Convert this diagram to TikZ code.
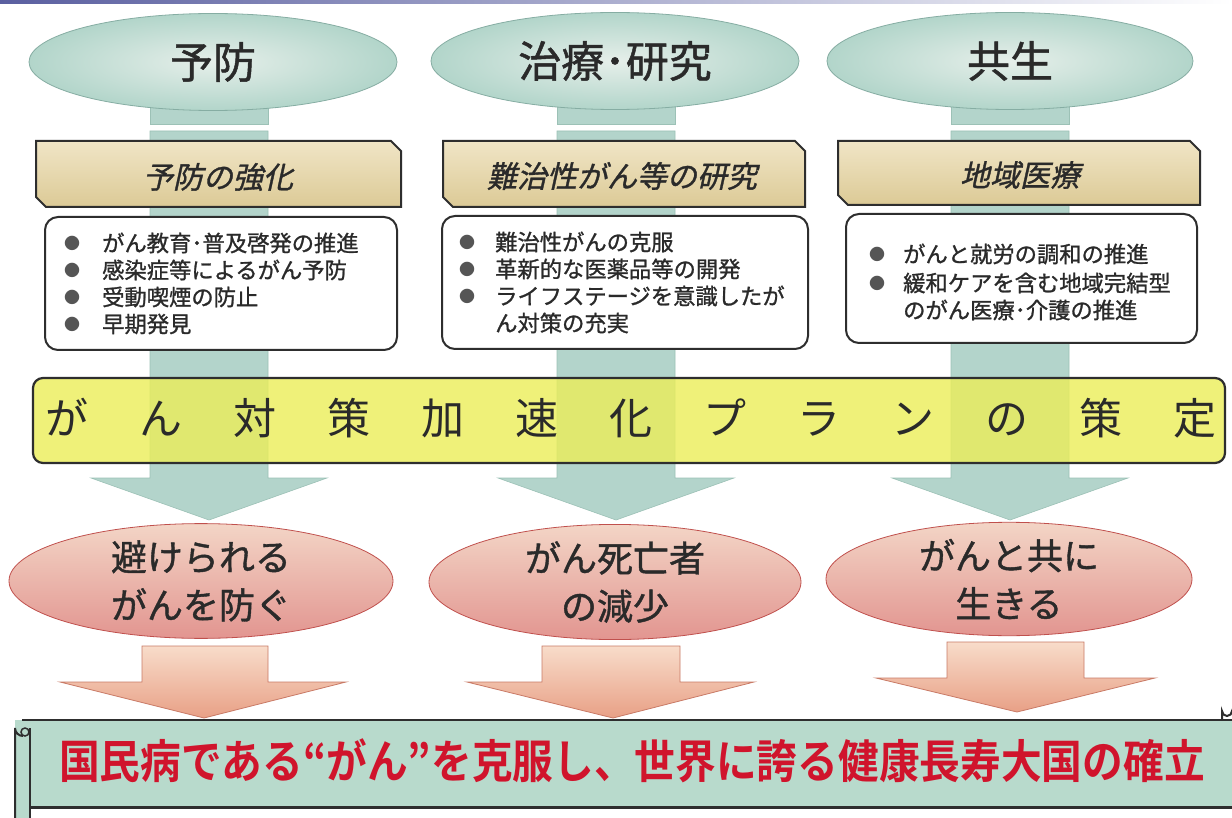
\documentclass[tikz,border=0pt]{standalone}
\usepackage{fontspec}
\newfontfamily\jp{Noto Sans CJK JP}
\newfontfamily\jpm{Noto Sans CJK JP}[FakeBold=1.1, AutoFakeSlant=0.22]
\newfontfamily\jpb{Noto Sans CJK JP Bold}[FakeStretch=0.885]
\usetikzlibrary{shapes.geometric}
\definecolor{ellin}{HTML}{E6EFEA}
\definecolor{ellout}{HTML}{B2D5CA}
\definecolor{ellborder}{HTML}{86ADA3}
\definecolor{arrowteal}{HTML}{B3D4CB}
\definecolor{arrowedge}{HTML}{9CC1B6}
\definecolor{tantop}{HTML}{F0E5C6}
\definecolor{tanbot}{HTML}{DCCA96}
\definecolor{boxline}{HTML}{2E2E2E}
\definecolor{baryellow}{HTML}{ECEE58}
\definecolor{redtop}{HTML}{F3D5C6}
\definecolor{redbot}{HTML}{E29590}
\definecolor{redborder}{HTML}{C0504D}
\definecolor{saltop}{HTML}{F8DCCA}
\definecolor{salbot}{HTML}{E8A086}
\definecolor{saledge}{HTML}{C97A66}
\definecolor{bannergreen}{HTML}{B8DACC}
\definecolor{bannerred}{HTML}{D0142C}
\definecolor{textdark}{HTML}{2A2A2A}
\definecolor{bulgray}{HTML}{555555}
\definecolor{topband}{HTML}{5A5FA0}
\begin{document}
\begin{tikzpicture}[x=1pt,y=-1pt,
  tealarrow/.style={fill=arrowteal, draw=arrowedge, line width=0.6pt},
  topell/.style={ellipse, draw=ellborder, line width=0.8pt, inner color=ellin, outer color=ellout,
    minimum width=368pt, minimum height=97pt, inner sep=0pt, text=textdark,
    font=\jpm\fontsize{43}{46}\selectfont},
  tanbox/.style={draw=boxline, line width=2pt, top color=tantop, bottom color=tanbot},
  tantext/.style={font=\jpm\itshape\fontsize{30}{32}\selectfont, text=textdark, inner sep=0pt},
  wbox/.style={draw=boxline, line width=2pt, fill=white, rounded corners=13pt},
  item/.style={anchor=west, font=\jpm\fontsize{22.3}{24}\selectfont, inner sep=0pt, text=textdark},
  bul/.style={font=\jp\fontsize{16}{16}\selectfont, text=bulgray, inner sep=0pt},
  redell/.style={ellipse, draw=redborder, line width=0.8pt, top color=redtop, bottom color=redbot,
    minimum height=112pt, inner sep=0pt, align=center, text=textdark,
    font=\jpm\fontsize{36}{48}\selectfont},
  salarrow/.style={draw=saledge, line width=0.8pt, top color=saltop, bottom color=salbot},
]
\useasboundingbox (0,0) rectangle (1232,818);
\fill[white] (0,0) rectangle (1232,818);
\shade[left color=topband, right color=white] (0,0) rectangle (1232,3.5);

% ---- teal stems and arrows (background) ----
\foreach \cx in {209,616,1010}{
  \draw[tealarrow] (\cx-59,95) rectangle (\cx+59,124);
  \draw[tealarrow] (\cx-59,131) -- (\cx+59,131) -- (\cx+59,478) -- (\cx+118,478)
     -- (\cx,520) -- (\cx-118,478) -- (\cx-59,478) -- cycle;
}

% ---- top ellipses ----
\node[topell] (t1) at (213,62) {予防};
\node[topell] (t2) at (615,61) {治療･研究};
\node[topell, minimum width=366pt] (t3) at (1010,61) {共生};

% ---- tan chamfered boxes ----
\draw[tanbox] (36,141) -- (391,141) -- (401,151) -- (401,207) -- (46,207) -- (36,197) -- cycle;
\draw[tanbox] (443,141) -- (795,141) -- (805,151) -- (805,207) -- (453,207) -- (443,197) -- cycle;
\draw[tanbox] (838,141) -- (1190,141) -- (1200,151) -- (1200,205) -- (848,205) -- (838,195) -- cycle;
\node[tantext] (s1) at (218,177) {予防の強化};
\node[tantext] (s2) at (622,176) {難治性がん等の研究};
\node[tantext] (s3) at (1020,175) {地域医療};

% ---- white boxes ----
\draw[wbox] (45,217) rectangle (397,350);
\draw[wbox] (442,216) rectangle (808,349);
\draw[wbox] (846,214) rectangle (1197,343);

\node[bul] (b11) at (72,243) {●};
\node[bul] (b12) at (72,270) {●};
\node[bul] (b13) at (72,297) {●};
\node[bul] (b14) at (72,324) {●};
\node[item] (i11) at (102,243) {がん教育･普及啓発の推進};
\node[item] (i12) at (102,270) {感染症等によるがん予防};
\node[item] (i13) at (102,297) {受動喫煙の防止};
\node[item] (i14) at (102,324) {早期発見};

\node[bul] (b21) at (467,242) {●};
\node[bul] (b22) at (467,269) {●};
\node[bul] (b23) at (467,296) {●};
\node[item] (i21) at (495,242) {難治性がんの克服};
\node[item] (i22) at (495,269) {革新的な医薬品等の開発};
\node[item] (i23) at (495,296) {ライフステージを意識したが};
\node[item] (i24) at (495,323) {ん対策の充実};

\node[bul] (b31) at (877,254) {●};
\node[bul] (b32) at (877,283) {●};
\node[item] (i31) at (903,254) {がんと就労の調和の推進};
\node[item] (i32) at (903,283) {緩和ケアを含む地域完結型};
\node[item] (i33) at (903,310) {のがん医療･介護の推進};

% ---- yellow bar ----
\draw[line width=2.2pt, draw=boxline, fill=baryellow, fill opacity=0.8, rounded corners=10pt]
  (33,378) rectangle (1225,463);
\node[inner sep=0pt, text=textdark, font=\jp\fontsize{43}{46}\selectfont] (plan) at (631,418)
  {\makebox[1171pt]{が\hfill ん\hfill 対\hfill 策\hfill 加\hfill 速\hfill 化\hfill プ\hfill ラ\hfill ン\hfill の\hfill 策\hfill 定}};

% ---- red ellipses ----
\node[redell, minimum width=384pt] (r1) at (201,581) {避けられる\\がんを防ぐ};
\node[redell, minimum width=372pt] (r2) at (615,582) {がん死亡者\\の減少};
\node[redell, minimum width=366pt] (r3) at (1009,579) {がんと共に\\生きる};

% ---- salmon arrows ----
\draw[salarrow] (142,646) -- (268,646) -- (268,682) -- (346,682) -- (204,718) -- (60,682) -- (142,682) -- cycle;
\draw[salarrow] (542,646) -- (680,646) -- (680,682) -- (754,682) -- (613,718) -- (467,682) -- (542,682) -- cycle;
\draw[salarrow] (947,642) -- (1084,642) -- (1084,678) -- (1155,678) -- (1017,712) -- (876,678) -- (947,678) -- cycle;

% ---- bottom banner ----
\fill[bannergreen] (15,720) rectangle (1232,807);
\fill[bannergreen] (15,807) rectangle (30,818);
\draw[boxline, line width=2.5pt] (22,720) -- (1232,720);
\draw[boxline, line width=2pt] (15,818) -- (15,728) arc[start angle=180, end angle=90, radius=8];
\draw[boxline, line width=2pt] (30,818) -- (30,728);
\draw[boxline, line width=1.5pt] (25,732) circle[radius=4];
\draw[boxline, line width=3pt] (30,807) -- (1232,807);
\draw[boxline, line width=2pt] (1222,720) -- (1222,711) arc[start angle=180, end angle=0, radius=5] -- (1232,714);
\node[inner sep=0pt, text=bannerred, font=\jpb\fontsize{46}{48}\selectfont] (goal) at (632,761)
  {国民病である“がん”を克服し、世界に誇る健康長寿大国の確立};
\end{tikzpicture}
\end{document}
